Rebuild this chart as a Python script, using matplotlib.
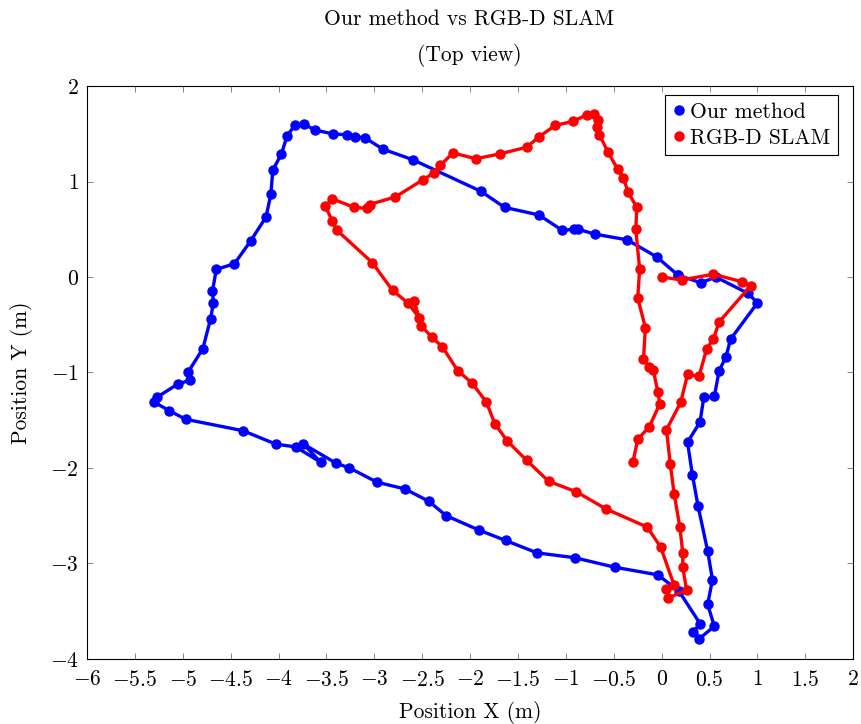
import numpy as np
import matplotlib.pyplot as plt
from matplotlib.lines import Line2D

# Trajectory of our method (x, y in metres)
ours_x = [0.17, 0.41, 0.565, 0.90, 1.00, 0.72, 0.67, 0.60, 0.55, 0.44, 0.40, 0.27,
          0.32, 0.38, 0.48, 0.53, 0.48, 0.55, 0.39, 0.33, 0.40, 0.18, -0.04, -0.49,
          -0.91, -1.30, -1.63, -1.91, -2.25, -2.43, -2.68, -2.97, -3.26, -3.40, -3.74,
          -3.56, -3.82, -4.03, -4.37, -4.97, -5.14, -5.30, -5.27, -5.05, -4.92, -4.94,
          -4.79, -4.71, -4.68, -4.69, -4.65, -4.46, -4.29, -4.13, -4.08, -4.06, -3.97,
          -3.91, -3.83, -3.73, -3.62, -3.43, -3.28, -3.20, -3.10, -2.91, -2.60, -1.89,
          -1.64, -1.28, -1.04, -0.92, -0.87, -0.70, -0.36, -0.05, 0.17]
ours_y = [0.02, -0.06, 0.00, -0.17, -0.27, -0.65, -0.84, -0.98, -1.25, -1.26, -1.52, -1.73,
          -2.07, -2.40, -2.87, -3.17, -3.43, -3.66, -3.79, -3.72, -3.63, -3.29, -3.12, -3.04,
          -2.94, -2.89, -2.76, -2.65, -2.50, -2.35, -2.22, -2.15, -2.00, -1.95, -1.75,
          -1.94, -1.78, -1.75, -1.61, -1.49, -1.40, -1.31, -1.26, -1.12, -1.08, -0.99,
          -0.75, -0.44, -0.27, -0.15, 0.08, 0.14, 0.38, 0.63, 0.87, 1.12, 1.29,
          1.48, 1.59, 1.60, 1.54, 1.50, 1.49, 1.47, 1.46, 1.34, 1.23, 0.90,
          0.73, 0.65, 0.49, 0.50, 0.50, 0.45, 0.39, 0.21, 0.02]

# Trajectory of RGB-D SLAM
slam_x = [0.00, 0.21, 0.54, 0.84, 0.93, 0.60, 0.54, 0.47, 0.39, 0.27, 0.20, 0.05,
          0.09, 0.13, 0.19, 0.22, 0.22, 0.26, 0.07, 0.04, 0.13, -0.01, -0.15, -0.58,
          -0.89, -1.18, -1.41, -1.61, -1.74, -1.83, -1.98, -2.13, -2.29, -2.40, -2.51,
          -2.59, -2.53, -2.65, -2.81, -3.02, -3.39, -3.44, -3.51, -3.44, -3.21, -3.08,
          -3.05, -2.78, -2.49, -2.38, -2.31, -2.18, -1.94, -1.69, -1.41, -1.28, -1.11,
          -0.93, -0.78, -0.71, -0.67, -0.68, -0.65, -0.56, -0.46, -0.40, -0.35, -0.26,
          -0.27, -0.23, -0.25, -0.17, -0.19, -0.13, -0.09, -0.04, -0.02, -0.13, -0.25,
          -0.30]
slam_y = [0.00, -0.03, 0.03, -0.05, -0.09, -0.47, -0.65, -0.75, -1.04, -1.02, -1.31, -1.60,
          -1.96, -2.27, -2.62, -2.89, -3.04, -3.28, -3.36, -3.27, -3.23, -2.83, -2.62, -2.43,
          -2.25, -2.14, -1.92, -1.72, -1.54, -1.31, -1.11, -0.98, -0.73, -0.63, -0.51,
          -0.25, -0.43, -0.27, -0.14, 0.15, 0.49, 0.59, 0.74, 0.82, 0.73, 0.72,
          0.76, 0.84, 1.02, 1.09, 1.17, 1.30, 1.24, 1.29, 1.36, 1.47, 1.59,
          1.63, 1.70, 1.71, 1.65, 1.57, 1.49, 1.31, 1.13, 1.04, 0.89, 0.73,
          0.50, 0.08, -0.22, -0.53, -0.86, -0.94, -0.97, -1.20, -1.33, -1.57, -1.70,
          -1.94]

x_ticks = np.arange(-6, 2.01, 0.5)
y_ticks = np.arange(-4, 2.01, 1)

plt.rcParams['font.family'] = 'serif'
plt.rcParams['font.serif'] = ['cmr10']
plt.rcParams['mathtext.fontset'] = 'cm'
plt.rcParams['axes.formatter.use_mathtext'] = True

fs = 15.5

fig = plt.figure(figsize=(8.61, 7.24), dpi=100)
ax = fig.add_axes([0.101, 0.090, 0.890, 0.791])

ax.plot(ours_x, ours_y, color='blue', linewidth=2.4, marker='o', markersize=6.5)
ax.plot(slam_x, slam_y, color='red', linewidth=2.4, marker='o', markersize=6.5)

ax.set_xlim(-6, 2)
ax.set_ylim(-4, 2)
ax.set_xticks(x_ticks)
ax.set_yticks(y_ticks)
ax.set_xticklabels(['$%g$' % t for t in x_ticks])
ax.set_yticklabels(['$%g$' % t for t in y_ticks])
ax.tick_params(direction='in', top=True, right=True, length=4, width=0.6,
               color='0.45', labelsize=fs)
ax.tick_params(axis='x', pad=8)
ax.tick_params(axis='y', pad=6)
for s in ax.spines.values():
    s.set_linewidth(0.8)

ax.set_xlabel('Position X (m)', fontsize=fs, labelpad=8)
ax.set_ylabel('Position Y (m)', fontsize=fs, labelpad=12)

fig.text(0.545, 0.974, 'Our method vs RGB-D SLAM', ha='center', va='center', fontsize=fs)
fig.text(0.545, 0.924, '(Top view)', ha='center', va='center', fontsize=fs)

handles = [Line2D([], [], color='blue', marker='o', linestyle='none', markersize=6.5),
           Line2D([], [], color='red', marker='o', linestyle='none', markersize=6.5)]
leg = ax.legend(handles, ['Our method', 'RGB-D SLAM'], loc='upper right',
                bbox_to_anchor=(0.98, 0.985), fontsize=fs, fancybox=False,
                edgecolor='black', framealpha=1, handlelength=0.6,
                handletextpad=0.2, borderpad=0.35, labelspacing=0.3,
                borderaxespad=0)
leg.get_frame().set_linewidth(0.8)

fig.savefig('out.png', dpi=100)
